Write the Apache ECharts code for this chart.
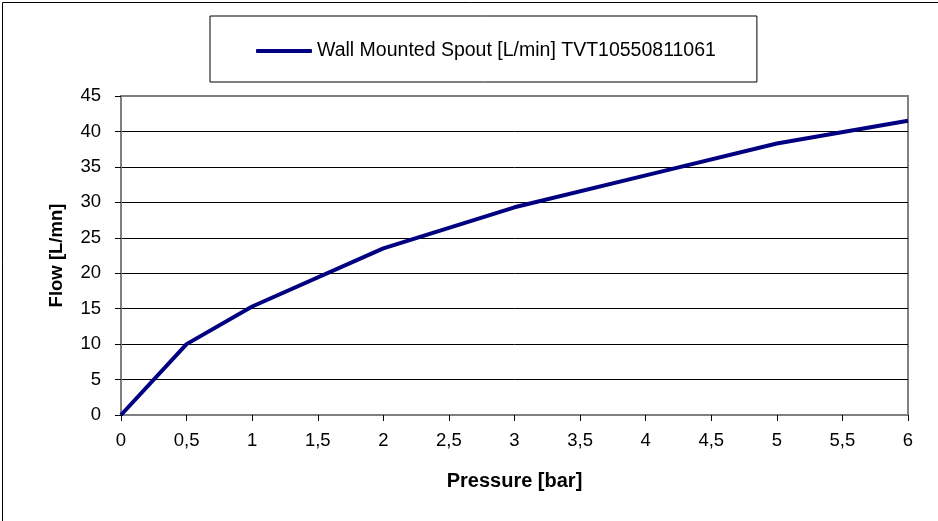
<!DOCTYPE html>
<html>
<head>
<meta charset="utf-8">
<script src="https://cdn.jsdelivr.net/npm/echarts@6/dist/echarts.min.js"></script>
<style>
html,body{margin:0;padding:0;background:#fff;}
#chart{width:938px;height:521px;}
</style>
</head>
<body>
<div id="chart"></div>
<script>
const seriesName = 'Wall Mounted Spout [L/min] TVT10550811061';
const pressure = [0, 0.5, 1, 2, 3, 4, 5, 6];
const flow = [0, 10, 15.3, 23.5, 29.3, 33.8, 38.3, 41.5];
const xAxisTitle = 'Pressure [bar]';
const yAxisTitle = 'Flow [L/mn]';

const chart = echarts.init(document.getElementById('chart'), null, {renderer: 'canvas'});
const font = 'Arial, "Liberation Sans", sans-serif';
chart.setOption({
  animation: false,
  backgroundColor: '#fff',
  graphic: [{
    type: 'rect', left: 0, top: 0, silent: true,
    shape: {x: 0.5, y: 0.5, width: 937, height: 520},
    style: {fill: 'none', stroke: '#000', lineWidth: 1}
  }],
  legend: {
    left: 210, top: 16,
    padding: [25, 41, 21, 46],
    borderColor: '#000', borderWidth: 1,
    itemWidth: 56, itemHeight: 4, itemGap: 4,
    icon: 'roundRect',
    textStyle: {fontFamily: font, fontSize: 19.5, color: '#000'},
    data: [seriesName]
  },
  grid: {left: 121, right: 30, top: 96, bottom: 106, show: true, borderColor: '#808080', borderWidth: 2, containLabel: false},
  xAxis: {
    type: 'value', min: 0, max: 6, interval: 0.5,
    name: xAxisTitle, nameLocation: 'middle', nameGap: 56,
    nameTextStyle: {fontFamily: font, fontSize: 20, fontWeight: 'bold', color: '#000'},
    axisLine: {lineStyle: {color: '#808080', width: 2}},
    axisTick: {show: true, length: 6, lineStyle: {color: '#000'}},
    axisLabel: {fontFamily: font, fontSize: 18.5, color: '#000', margin: 16,
      formatter: v => String(v).replace('.', ',')},
    splitLine: {show: false}
  },
  yAxis: {
    type: 'value', min: 0, max: 45, interval: 5,
    name: yAxisTitle, nameLocation: 'middle', nameGap: 55,
    nameTextStyle: {fontFamily: font, fontSize: 18.5, fontWeight: 'bold', color: '#000'},
    axisLine: {show: true, lineStyle: {color: '#808080', width: 2}},
    axisTick: {show: true, length: 6, lineStyle: {color: '#000'}},
    axisLabel: {fontFamily: font, fontSize: 18.5, color: '#000', margin: 20},
    splitLine: {show: true, showMinLine: false, showMaxLine: false, lineStyle: {color: '#000', width: 1}}
  },
  series: [{
    name: seriesName,
    type: 'line',
    data: pressure.map((p, i) => [p, flow[i]]),
    symbol: 'none',
    lineStyle: {color: '#000080', width: 4},
    itemStyle: {color: '#000080'}
  }]
});
</script>
</body>
</html>
